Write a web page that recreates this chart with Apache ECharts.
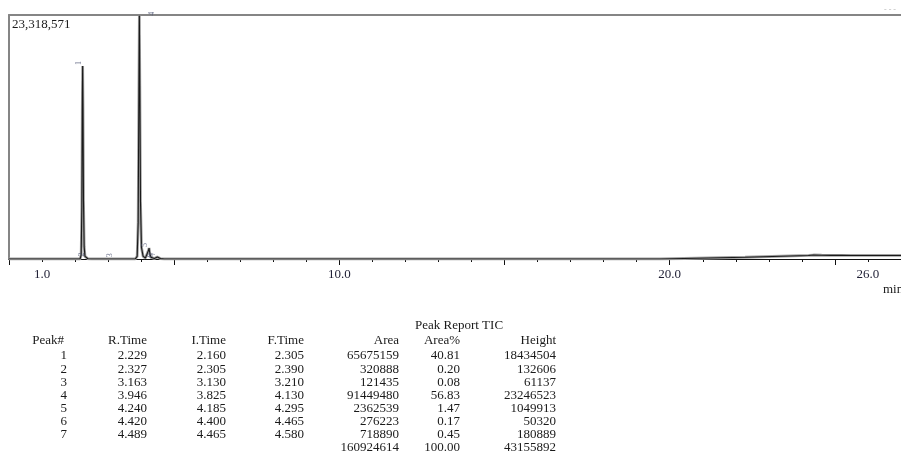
<!DOCTYPE html>
<html><head><meta charset="utf-8">
<script src="https://cdn.jsdelivr.net/npm/echarts@6/dist/echarts.min.js"></script>
<style>html,body{margin:0;padding:0;background:#fff}#c{width:901px;height:474px}</style>
</head><body><div id="c"></div>
<script>
// ---- data ----
const yMax = 23318571;
const xMin = 0, xMax = 27;
const xTickLabels = [1, 10, 20, 26];
const chromTime = [0.00, 2.150, 2.185, 2.205, 2.218, 2.229, 2.240, 2.255, 2.275, 2.300, 2.327, 2.350, 2.390, 2.500, 3.130, 3.163, 3.210, 3.820, 3.880, 3.910, 3.932, 3.946, 3.960, 3.980, 4.010, 4.060, 4.130, 4.185, 4.225, 4.240, 4.260, 4.295, 4.400, 4.420, 4.445, 4.465, 4.489, 4.520, 4.580, 4.700, 19.70, 19.74, 22.28, 22.31, 24.20, 24.35, 24.60, 24.90, 25.20, 25.50, 27.00];
const chromSignal = [0, 0, 400000, 5000000, 14000000, 18434504, 14500000, 5500000, 1200000, 250000, 132606, 70000, 25000, 0, 0, 61137, 0, 0, 250000, 3500000, 16000000, 23246523, 16500000, 5500000, 1100000, 250000, 90000, 150000, 850000, 1049913, 550000, 160000, 45000, 50320, 40000, 60000, 180889, 110000, 40000, 0, 0, 160000, 165000, 330000, 340000, 380000, 360000, 350000, 345000, 340000, 340000];

const tableTitle = 'Peak Report TIC';
const headers = ['Peak#', 'R.Time', 'I.Time', 'F.Time', 'Area', 'Area%', 'Height'];
const peakNo = [1, 2, 3, 4, 5, 6, 7];
const rTime = [2.229, 2.327, 3.163, 3.946, 4.240, 4.420, 4.489];
const iTime = [2.160, 2.305, 3.130, 3.825, 4.185, 4.400, 4.465];
const fTime = [2.305, 2.390, 3.210, 4.130, 4.295, 4.465, 4.580];
const area = [65675159, 320888, 121435, 91449480, 2362539, 276223, 718890];
const areaPct = [40.81, 0.20, 0.08, 56.83, 1.47, 0.17, 0.45];
const height = [18434504, 132606, 61137, 23246523, 1049913, 50320, 180889];
const totalArea = 160924614, totalPct = 100.00, totalHeight = 43155892;

// ---- layout ----
const FONT = '"Liberation Serif", "DejaVu Serif", serif';
const colRight = [67, 147, 226, 304, 399, 460, 556];
const headerRight = [64, 147, 226, 304, 399, 460, 556];
const headerY = 341, row0Y = 356, rowStep = 13.1;

function txt(x, y, s, align, size, color) {
  return { type: 'text', x: x, y: y, silent: true,
    style: { text: s, fontSize: size || 13, fontFamily: FONT, fill: color || '#1a1a1a',
      align: align || 'right', textAlign: align || 'right',
      verticalAlign: 'middle', textVerticalAlign: 'middle' } };
}

const graphics = [];
graphics.push(txt(12, 25, yMax.toLocaleString('en-US'), 'left'));
graphics.push(txt(883, 290, 'min', 'left'));
graphics.push(txt(884, 10, '- - -', 'left', 8, '#bbbbbb'));
graphics.push(txt(459, 326, tableTitle, 'center'));
headers.forEach((h, j) => graphics.push(txt(headerRight[j], headerY, h)));
for (let i = 0; i < peakNo.length; i++) {
  const y = row0Y + rowStep * i;
  const cells = [String(peakNo[i]), rTime[i].toFixed(3), iTime[i].toFixed(3), fTime[i].toFixed(3),
    String(area[i]), areaPct[i].toFixed(2), String(height[i])];
  cells.forEach((c, j) => graphics.push(txt(colRight[j], y, c)));
}
const yT = row0Y + rowStep * peakNo.length;
graphics.push(txt(colRight[4], yT, String(totalArea)));
graphics.push(txt(colRight[5], yT, totalPct.toFixed(2)));
graphics.push(txt(colRight[6], yT, String(totalHeight)));

const chromData = chromTime.map((t, i) => [t, chromSignal[i]]);
const labelData = peakNo.map((p, i) => {
  const d = { value: [rTime[i], height[i], p] };
  if (p === 4) d.label = { position: 'right', distance: 9, offset: [0, 4] };
  return d;
});

const chart = echarts.init(document.getElementById('c'), null, { renderer: 'canvas' });
chart.setOption({
  animation: false,
  backgroundColor: '#fff',
  grid: { left: 9, right: -2, top: 15, bottom: 215, show: false },
  xAxis: [{
    type: 'value', min: xMin, max: xMax, interval: 1,
    axisLine: { show: true, onZero: false, lineStyle: { color: '#111', width: 1 } },
    axisTick: { show: true, length: 3, lineStyle: { color: '#111', width: 1 } },
    splitLine: { show: false },
    axisLabel: { margin: 9, fontFamily: FONT, fontSize: 13, color: '#1d1d33',
      showMinLabel: false, showMaxLabel: false,
      formatter: v => xTickLabels.indexOf(Math.round(v)) >= 0 ? v.toFixed(1) : '' }
  }, {
    type: 'value', min: xMin, max: xMax, interval: 5, position: 'bottom',
    axisLine: { show: false }, splitLine: { show: false },
    axisTick: { show: true, length: 6, lineStyle: { color: '#111', width: 1 } },
    axisLabel: { show: false }
  }, {
    type: 'value', min: xMin, max: xMax, position: 'top',
    axisLine: { show: true, onZero: false, lineStyle: { color: '#858585', width: 2 } },
    axisTick: { show: false }, axisLabel: { show: false }, splitLine: { show: false }
  }],
  yAxis: {
    type: 'value', min: 0, max: yMax,
    axisLine: { show: true, lineStyle: { color: '#858585', width: 2 } },
    axisTick: { show: false }, axisLabel: { show: false }, splitLine: { show: false }
  },
  series: [{
    type: 'line', data: chromData, showSymbol: false, symbol: 'none', sampling: null,
    lineStyle: { color: '#a0a0a0', width: 2.8 }, z: 2, silent: true
  }, {
    type: 'line', data: chromData, showSymbol: false, symbol: 'none',
    lineStyle: { color: '#1a1a1a', width: 1.1 }, z: 3, silent: true
  }, {
    type: 'scatter', data: labelData, symbolSize: 0, silent: true, z: 4,
    label: { show: true, position: 'top', distance: 3, rotate: 90, fontSize: 8, fontFamily: FONT, color: '#4a5070',
      formatter: p => String(p.value[2]) }
  }],
  graphic: graphics
});
</script></body></html>
